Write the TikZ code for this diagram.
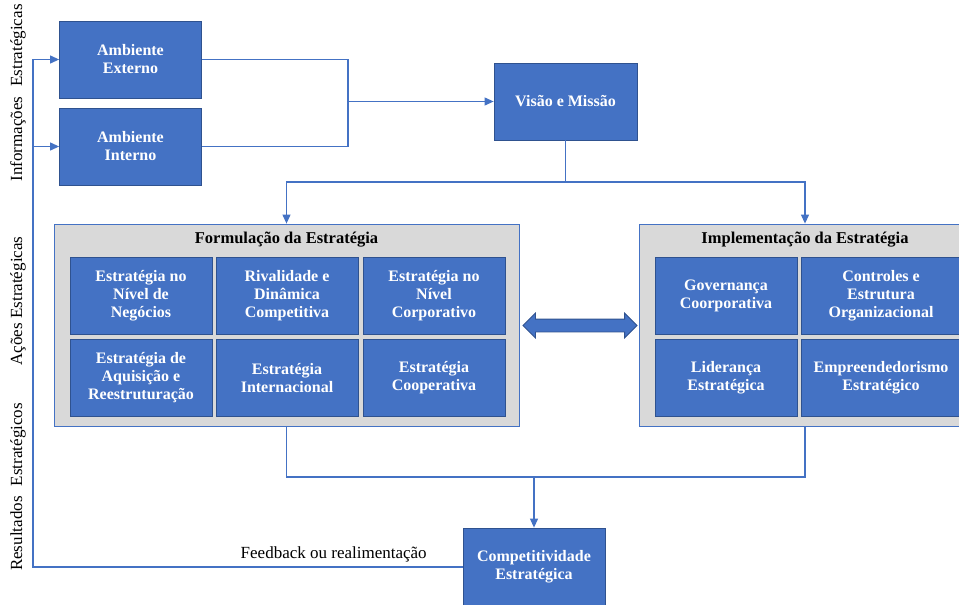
\documentclass[tikz,border=0pt]{standalone}
\usepackage{fontspec}
\setmainfont{Liberation Serif}
\usetikzlibrary{arrows.meta,positioning,calc,shapes.arrows}
\definecolor{boxblue}{HTML}{4472C4}
\definecolor{boxedge}{HTML}{2F528F}
\definecolor{panelgray}{HTML}{D9D9D9}

\begin{document}
\begin{tikzpicture}[
    x=1pt, y=-1pt,
    blk/.style={rectangle, draw=boxedge, fill=boxblue, line width=0.8pt, text=white,
                font=\fontsize{16}{18}\selectfont\bfseries, align=center, inner sep=0pt,
                minimum width=142, minimum height=77},
    panel/.style={rectangle, draw=boxblue, fill=panelgray, line width=0.8pt,
                  minimum height=202, inner sep=0pt},
    ptitle/.style={font=\fontsize{16.5}{18}\selectfont\bfseries, inner sep=0pt},
    side/.style={rotate=90, font=\fontsize{17}{18}\selectfont, inner sep=0pt},
    link/.style={draw=boxblue, line width=1.1pt},
    arr/.style={link, -{Triangle[length=9pt, width=8pt]}}
]
    \clip (0,0) rectangle (959,605);

    \node[side] (info) at (18,93) {Informações\hspace{0.6em}Estratégicas};
    \node[side] (acoes) at (18,301) {Ações Estratégicas};
    \node[side] (result) at (18,487) {Resultados\hspace{0.6em}Estratégicos};

    \node[blk] (ext) at (130.5,59.5) {Ambiente\\Externo};
    \node[blk] (int) at (130.5,146.5) {Ambiente\\Interno};
    \node[blk, minimum width=143] (vm) at (565.5,101.5) {Visão e Missão};

    \node[panel, minimum width=465] (form) at (286.5,325) {};
    \node[ptitle] (formt) at (286.5,240) {Formulação da Estratégia};
    \node[blk] (f1) at (141,295.5) {Estratégia no\\Nível de\\Negócios};
    \node[blk] (f2) at (287,295.5) {Rivalidade e\\Dinâmica\\Competitiva};
    \node[blk] (f3) at (434,295.5) {Estratégia no\\Nível\\Corporativo};
    \node[blk] (f4) at (141,378) {Estratégia de\\Aquisição e\\Reestruturação};
    \node[blk] (f5) at (287,378) {Estratégia\\Internacional};
    \node[blk] (f6) at (434,378) {Estratégia\\Cooperativa};

    \node[panel, minimum width=332] (impl) at (805,325) {};
    \node[ptitle] (implt) at (805,240) {Implementação da Estratégia};
    \node[blk] (i1) at (726,295.5) {Governança\\Coorporativa};
    \node[blk, minimum width=160] (i2) at (881,295.5) {Controles e\\Estrutura\\Organizacional};
    \node[blk] (i3) at (726,378) {Liderança\\Estratégica};
    \node[blk, minimum width=160] (i4) at (881,378) {Empreendedorismo\\Estratégico};

    \node[double arrow, draw=boxedge, fill=boxblue, line width=0.8pt, inner sep=6pt,
          minimum height=114, double arrow head extend=6pt,
          double arrow head indent=0pt] (both) at (580,325.5) {};

    \node[blk, minimum height=78] (comp) at (534,567) {Competitividade\\Estratégica};

    \coordinate (jn) at (348,101.5);
    \coordinate (split) at (565.5,182);
    \coordinate (merge) at (534,477);
    \coordinate (fbtop) at (33,59.5);

    \draw[link] (ext.east) -| (jn) |- (int.east);
    \draw[arr] (jn) -- (vm.west);
    \draw[link] (vm.south) -- (split);
    \draw[arr] (split) -| (form.north);
    \draw[arr] (split) -| (impl.north);
    \draw[link] (form.south) |- (merge) -| (impl.south);
    \draw[arr] (merge) -- (comp.north);
    \draw[arr] (comp.west) -- node[pos=0.3, anchor=south, inner sep=4pt,
          font=\fontsize{17}{18}\selectfont] (fbtxt) {Feedback ou realimentação}
          (comp.west -| fbtop) -- (fbtop) -- (ext.west);
    \draw[arr] (fbtop |- int.west) -- (int.west);
\end{tikzpicture}
\end{document}
